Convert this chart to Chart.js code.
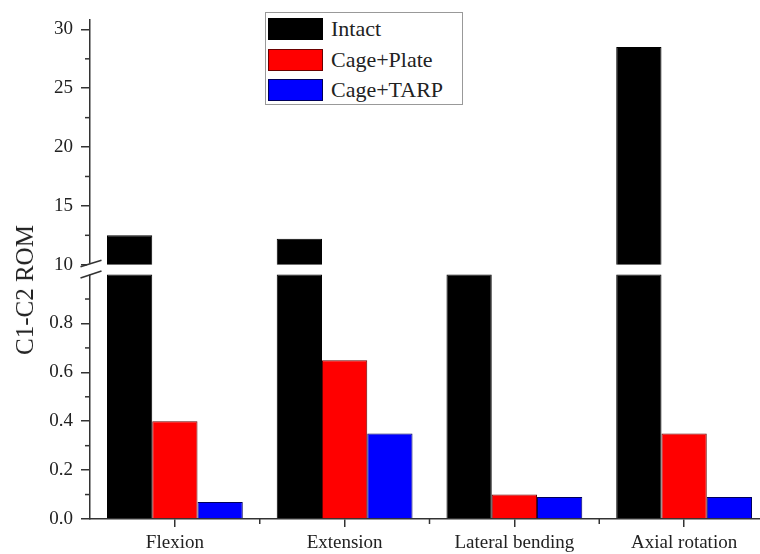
<!DOCTYPE html>
<html>
<head>
<meta charset="utf-8">
<script src="https://cdn.jsdelivr.net/npm/chart.js@4.4.1/dist/chart.umd.min.js"></script>
<style>
  html, body { margin: 0; padding: 0; background: #fff; overflow: hidden; }
  #wrap { position: relative; width: 760px; height: 554px; overflow: hidden; }
  #chart { position: absolute; left: 0; top: 0; }
  #ytitle {
    position: absolute; left: 25px; top: 290px;
    transform: translate(-50%, -50%) rotate(-90deg);
    font: 25px "Liberation Serif"; color: #222; white-space: nowrap;
  }
  #legend {
    position: absolute; left: 265px; top: 12px; width: 196px; height: 91px;
    border: 1px solid #999; background: #fff;
  }
  .row { position: absolute; left: 2px; height: 22px; display: flex; align-items: center; }
  .sw { width: 53px; height: 20px; border: 1px solid #222; margin-right: 8px; }
  .lbl { font: 22px "Liberation Serif"; color: #222; }
</style>
</head>
<body>
<div id="wrap">
  <canvas id="chart" width="770" height="554"></canvas>
  <div id="ytitle">C1-C2 ROM</div>
  <div id="legend"></div>
</div>
<script>
// data
const categories = ['Flexion', 'Extension', 'Lateral bending', 'Axial rotation'];
const seriesNames = ['Intact', 'Cage+Plate', 'Cage+TARP'];
const seriesColors = ['#000000', '#ff0000', '#0000ff'];
const seriesBorders = ['#000000', '#6a0000', '#00005a'];

const intact = [12.5, 12.2, 1.0, 28.5]; // lateral bending runs up to the break
const cagePlate = [0.40, 0.65, 0.10, 0.35];
const cageTarp = [0.07, 0.35, 0.09, 0.09];

// broken y axis: lower part 0..1, upper part 10..30
const breakLow = 1.0;
const breakHigh = 10;
const lowerTicks = [0, 0.2, 0.4, 0.6, 0.8];
const lowerMinor = [0.1, 0.3, 0.5, 0.7, 0.9];
const upperTicks = [10, 15, 20, 25, 30];
const upperMinor = [12.5, 17.5, 22.5, 27.5];

const FONT = 'Liberation Serif';
const AXIS = '#333';

// legend (html)
const legendEl = document.getElementById('legend');
seriesNames.forEach((name, i) => {
  const row = document.createElement('div');
  row.className = 'row';
  row.style.top = (5 + i * 30.5) + 'px';
  row.innerHTML = '<div class="sw" style="background:' + seriesColors[i] +
    ';border-color:' + seriesBorders[i] + '"></div><span class="lbl">' + name + '</span>';
  legendEl.appendChild(row);
});

function line(ctx, x1, y1, x2, y2) {
  ctx.beginPath();
  ctx.moveTo(x1, y1);
  ctx.lineTo(x2, y2);
  ctx.stroke();
}

// minor ticks + the // break marks on the y axis
const brokenAxis = {
  id: 'brokenAxis',
  afterDraw(chart) {
    const { ctx, chartArea, scales } = chart;
    const top = scales.yTop, bot = scales.yBot, x = scales.x;
    const ax = chartArea.left;
    ctx.save();
    ctx.strokeStyle = AXIS;
    ctx.lineWidth = 1.5;

    upperMinor.forEach(v => { const y = top.getPixelForValue(v); line(ctx, ax - 5, y, ax, y); });
    lowerMinor.forEach(v => { const y = bot.getPixelForValue(v); line(ctx, ax - 5, y, ax, y); });

    for (let i = 1; i < categories.length; i++) {
      const px = (x.getPixelForValue(i - 1) + x.getPixelForValue(i)) / 2;
      line(ctx, px, chartArea.bottom, px, chartArea.bottom + 5);
    }

    const yA = top.getPixelForValue(breakHigh);
    const yB = bot.getPixelForValue(breakLow);
    ctx.fillStyle = '#fff';
    ctx.fillRect(ax - 3, yA - 1, 6, yB - yA + 1);
    line(ctx, ax - 9.5, yA + 2, ax + 11.5, yA - 4.5);
    line(ctx, ax - 9.5, yB + 3.5, ax + 11.5, yB - 3.5);
    ctx.restore();
  }
};

const tickFont = { family: FONT, size: 19 };

const ctx = document.getElementById('chart').getContext('2d');
const chart = new Chart(ctx, {
  type: 'bar',
  data: {
    labels: categories,
    datasets: [
      {
        label: seriesNames[0],
        data: intact.map(v => (v > breakHigh ? [breakHigh, v] : null)),
        yAxisID: 'yTop', stack: 's0',
        backgroundColor: seriesColors[0], borderColor: seriesBorders[0]
      },
      {
        label: seriesNames[0],
        data: intact.map(v => Math.min(v, breakLow)),
        yAxisID: 'yBot', stack: 's0',
        backgroundColor: seriesColors[0], borderColor: seriesBorders[0]
      },
      {
        label: seriesNames[1],
        data: cagePlate,
        yAxisID: 'yBot', stack: 's1',
        backgroundColor: seriesColors[1], borderColor: seriesBorders[1]
      },
      {
        label: seriesNames[2],
        data: cageTarp,
        yAxisID: 'yBot', stack: 's2',
        backgroundColor: seriesColors[2], borderColor: seriesBorders[2]
      }
    ]
  },
  options: {
    responsive: false,
    animation: false,
    layout: { padding: { top: 18, right: 1, left: 0, bottom: 0 } },
    datasets: {
      bar: { categoryPercentage: 0.8, barPercentage: 1, borderWidth: 1 }
    },
    plugins: {
      legend: { display: false },
      tooltip: { enabled: false }
    },
    scales: {
      x: {
        grid: { drawOnChartArea: false, offset: false, tickLength: 8, color: AXIS, lineWidth: 1.5 },
        border: { color: AXIS, width: 1.5 },
        ticks: { font: tickFont, color: '#222', padding: 5, maxRotation: 0, autoSkip: false },
        afterFit: s => { s.height = 35; }
      },
      yBot: {
        type: 'linear', position: 'left', stack: 'y', stackWeight: 1, weight: 0,
        min: 0, max: 1.022, stacked: false,
        afterBuildTicks: s => { s.ticks = lowerTicks.map(v => ({ value: v })); },
        grid: { drawOnChartArea: false, tickLength: 9, color: AXIS, lineWidth: 1.5 },
        border: { color: AXIS, width: 1.5 },
        ticks: { font: tickFont, color: '#222', padding: 8, callback: v => Number(v).toFixed(1) },
        afterFit: s => { s.width = 90; }
      },
      yTop: {
        type: 'linear', position: 'left', stack: 'y', stackWeight: 1, weight: 1,
        min: 9.62, max: 30.85, stacked: false,
        afterBuildTicks: s => { s.ticks = upperTicks.map(v => ({ value: v })); },
        grid: { drawOnChartArea: false, tickLength: 9, color: AXIS, lineWidth: 1.5 },
        border: { color: AXIS, width: 1.5 },
        ticks: { font: tickFont, color: '#222', padding: 8, callback: v => String(v) },
        afterFit: s => { s.width = 90; }
      }
    }
  },
  plugins: [brokenAxis]
});
</script>
</body>
</html>
